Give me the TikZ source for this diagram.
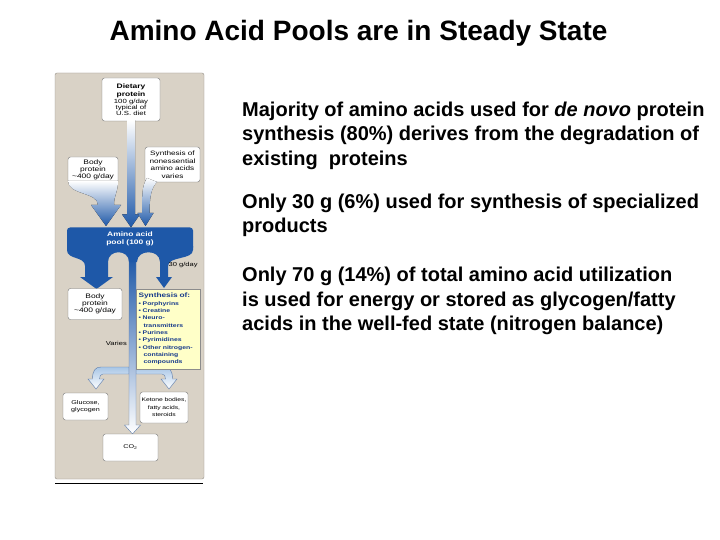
\documentclass[tikz,border=0pt]{standalone}
\usepackage{fontspec}
\setmainfont{Liberation Sans}
\newfontfamily\figfont{Liberation Sans}[FakeStretch=1.3]
\usepackage{tikz}
\usetikzlibrary{calc}

\definecolor{panelbg}{RGB}{217,210,198}
\definecolor{panelline}{RGB}{150,145,138}
\definecolor{poolblue}{RGB}{30,88,168}
\definecolor{paleblue}{RGB}{168,198,230}
\definecolor{edgeblue}{RGB}{95,125,170}
\definecolor{noteyellow}{RGB}{255,255,200}
\definecolor{noteblue}{RGB}{25,60,140}

\begin{document}
\begin{tikzpicture}[x=1pt,y=-1pt,
  body/.style={anchor=base west,align=left,inner sep=0pt,font=\bfseries\fontsize{20}{24.5}\selectfont},
  card/.style n args={2}{draw=black!55,fill=white,rounded corners=2.5pt,line width=.4pt,text width=#1pt,minimum height=#2pt,inner sep=0pt,align=center,font=\figfont\fontsize{6.5}{7}\selectfont},
  feed/.style={top color=white,bottom color=poolblue},
  spent/.style={top color=paleblue,bottom color=white,draw=edgeblue,line width=.4pt},
  tag/.style={inner sep=0pt,font=\figfont\fontsize{5.8}{7}\selectfont}]
\useasboundingbox (0,0) rectangle (720,540);
\fill[white] (0,0) rectangle (720,540);

\node[anchor=base,inner sep=0pt,font=\bfseries\fontsize{28}{34}\selectfont] (title) at (358.5,41) {Amino Acid Pools are in Steady State};

\node[body] (p1) at (242,165.5) {Majority of amino acids used for \textit{de novo} protein\\synthesis (80\%) derives from the degradation of\\existing\ \ proteins};
\node[body] (p2) at (242,233) {Only 30 g (6\%) used for synthesis of specialized\\products};
\node[body] (p3) at (242,330.5) {Only 70 g (14\%) of total amino acid utilization\\is used for energy or stored as glycogen/fatty\\acids in the well-fed state (nitrogen balance)};

\draw[panelline,fill=panelbg,rounded corners=2pt] (55,73) rectangle (204,479);
\draw[line width=.8pt] (55,483.5) -- (203,483.5);

\node[card={58}{43}] (diet) at (131,99.5) {{\bfseries Dietary\\[1pt]protein\par}\vspace{2pt}{\fontsize{6}{5.8}\selectfont 100 g/day\\typical of\\U.S. diet\par}};
\node[card={50}{26}] (bodyin) at (93,170) {Body\\protein\\\textasciitilde400 g/day};
\node[card={55}{35}] (noness) at (172.5,164.5) {\fontsize{6.3}{7.5}\selectfont Synthesis of\\nonessential\\amino acids\\varies\par};

\node[fill=poolblue,rounded corners=3pt,minimum width=126pt,minimum height=23pt,inner sep=0pt,align=center,text=white,font=\figfont\bfseries\fontsize{6.5}{8}\selectfont] (pool) at (130,239) {Amino acid\\pool (100 g)};

\fill[feed] let \p1=(diet.south), \p2=(pool.north) in (\x1-4pt,\y1+1pt) -- (\x1-4pt,\y2+13pt) -- (\x1-9pt,\y2+13pt) -- (\x1,\y2) -- (\x1+9pt,\y2+13pt) -- (\x1+4pt,\y2+13pt) -- (\x1+4pt,\y1+1pt) -- cycle;
\fill[feed] (68,181) .. controls (68,195) and (98,192) .. (98,205) -- (91,205) -- (106,226) -- (121,205) -- (114,205) .. controls (114,195) and (118,192) .. (118,181) -- cycle;
\fill[feed] (147,178) .. controls (142,186) and (142,195) .. (142,213) -- (137.5,213) -- (145.5,226) -- (153.5,213) -- (149.5,213) .. controls (149.5,198) and (151,188) .. (157,182) -- cycle;

\foreach \s in {1,-1}
  \draw[spent,shift={(132.5,0)},xscale=\s] (-3.5,367) -- (-31.5,367) .. controls (-37.5,367) and (-40,371) .. (-40,379) -- (-44.5,379) -- (-36.5,389) -- (-28.5,379) -- (-33,379) .. controls (-33,376) and (-32,374) .. (-29.5,374) -- (-3.5,374) -- cycle;
\draw[top color=poolblue,middle color=paleblue,bottom color=white,draw=edgeblue,line width=.4pt] (129,258) -- (129,425) -- (124.5,425) -- (132.5,434) -- (140.5,425) -- (136,425) -- (136,258) -- cycle;
\fill[poolblue] (67,246) -- (67,250) .. controls (67,260) and (85,256) .. (85,266) -- (85,277) -- (80,277) -- (96.5,289) -- (113,277) -- (108,277) -- (108,262) .. controls (108,249) and (129,249) .. (129,262) -- (137,262) .. controls (137,249) and (160,249) .. (160,262) -- (160,277) -- (156,277) -- (164,288) -- (172,277) -- (168,277) -- (168,266) .. controls (168,256) and (193,260) .. (193,250) -- (193,246) -- cycle;

\node[tag,anchor=west] (rate) at (168.5,265) {30 g/day};
\node[card={54}{31}] (bodyout) at (95,304) {Body\\protein\\\textasciitilde400 g/day};
\node[draw=black!45,fill=noteyellow,line width=.4pt,text width=59pt,inner xsep=2.5pt,inner ysep=0pt,minimum height=80pt,align=left,text=noteblue,font=\figfont\bfseries\fontsize{5.3}{7.3}\selectfont] (synth) at (168,329) {{\fontsize{6.4}{7.3}\selectfont Synthesis of:}\\\textbullet\ Porphyrins\\\textbullet\ Creatine\\\textbullet\ Neuro-\\\hspace*{5pt}transmitters\\\textbullet\ Purines\\\textbullet\ Pyrimidines\\\textbullet\ Other nitrogen-\\\hspace*{5pt}containing\\\hspace*{5pt}compounds\par};
\node[tag,anchor=east] (varies) at (127,343) {Varies};

\node[card={45}{27},font=\figfont\fontsize{5.5}{7}\selectfont] (gluc) at (85.5,406.5) {Glucose,\\glycogen};
\node[card={48}{31},font=\figfont\fontsize{5.2}{7.5}\selectfont] (keto) at (164,407.5) {Ketone bodies,\\fatty acids,\\steroids};
\node[card={55}{27},font=\figfont\fontsize{5.5}{7}\selectfont] (co2) at (130.5,447.5) {CO\textsubscript{2}};
\end{tikzpicture}
\end{document}
